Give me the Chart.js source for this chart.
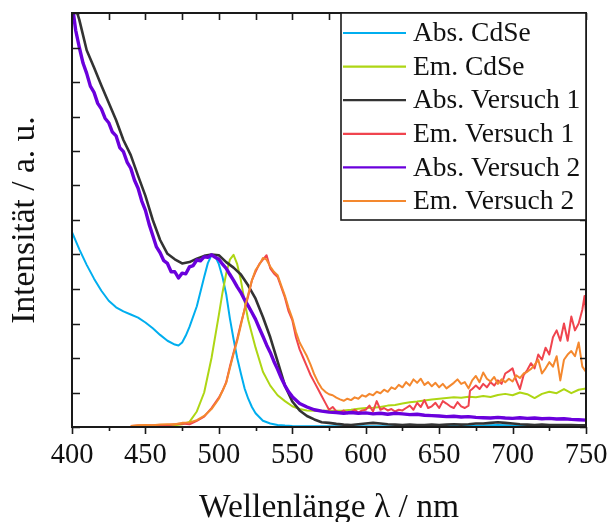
<!DOCTYPE html>
<html><head><meta charset="utf-8">
<script src="https://cdn.jsdelivr.net/npm/chart.js@4/dist/chart.umd.min.js"></script>
<style>html,body{margin:0;padding:0;background:#fff;}canvas{display:block;}</style>
</head><body>
<canvas id="c" width="607" height="522"></canvas>
<script>
// ---------- data ----------
const seriesLabels = ['Abs. CdSe', 'Em. CdSe', 'Abs. Versuch 1', 'Em. Versuch 1', 'Abs. Versuch 2', 'Em. Versuch 2'];

const wlAbsCdSe = [400,405,410,415,420,425,430,435,440,445,450,455,460,465,470,472.5,475,477.5,480,485,490,492.5,495,497.5,500,502.5,505,507.5,510,512.5,515,517.5,520,522.5,525,530,535,540,545,550,560,570,580,590,600,620,640,660,680,690,700,720,740,750];
const absCdSe   = [5.65,5.15,4.7,4.3,3.95,3.66,3.47,3.35,3.26,3.17,3.03,2.86,2.67,2.5,2.39,2.36,2.45,2.65,2.9,3.5,4.35,4.75,4.98,4.95,4.72,4.35,3.85,3.15,2.55,2.0,1.55,1.12,0.82,0.58,0.4,0.18,0.1,0.06,0.04,0.03,0.02,0.02,0.02,0.02,0.02,0.02,0.02,0.03,0.04,0.06,0.04,0.02,0.02,0.02];

const wlEmCdSe = [455,460,465,470,475,480,485,490,495,500,502.5,505,507.5,510,512.5,515,517.5,520,525,530,535,540,545,550,555,560,565,570,575,580,585,590,595,600,605,610,615,620,625,630,635,640,645,650,655,660,665,670,675,680,685,690,695,700,705,710,715,720,725,730,735,740,745,750];
const emCdSe   = [0.02,0.03,0.03,0.05,0.08,0.15,0.45,1.0,2.0,3.25,3.9,4.45,4.85,4.99,4.72,4.25,3.65,3.1,2.3,1.6,1.2,0.92,0.75,0.6,0.52,0.48,0.47,0.47,0.47,0.47,0.48,0.5,0.53,0.55,0.56,0.58,0.62,0.64,0.68,0.72,0.74,0.77,0.8,0.82,0.84,0.86,0.85,0.88,0.86,0.9,0.87,0.93,0.96,0.92,1.0,0.95,0.84,0.96,1.02,0.98,1.1,0.98,1.08,1.12];

const wlAbsV1 = [400,405,410,415,420,425,430,435,440,445,450,455,460,465,470,475,480,485,490,495,500,505,510,515,520,525,530,535,540,545,550,555,560,565,570,575,580,585,590,595,600,605,610,615,620,625,630,635,640,645,650,655,660,665,670,675,680,685,690,695,700,705,710,715,720,725,730,735,740,745,750];
const absV1   = [12.5,11.8,10.92,10.42,9.9,9.4,8.9,8.32,7.88,7.28,6.7,6.0,5.42,5.02,4.86,4.74,4.78,4.88,4.96,5.0,4.98,4.78,4.62,4.42,4.1,3.72,3.19,2.6,1.9,1.2,0.74,0.48,0.32,0.22,0.14,0.12,0.09,0.07,0.06,0.08,0.1,0.12,0.1,0.08,0.07,0.06,0.07,0.06,0.06,0.07,0.06,0.07,0.08,0.07,0.08,0.1,0.1,0.12,0.14,0.12,0.1,0.08,0.07,0.06,0.07,0.06,0.06,0.06,0.06,0.05,0.05];

const wlEmV1 = [440,445,450,455,460,465,470,475,480,485,490,495,500,502.5,505,507.5,510,512.5,515,517.5,520,522.5,525,527.5,530,532.5,535,537.5,540,542.5,545,547.5,550,552.5,555,557.5,560,562.5,565,567.5,570,572.5,575,577.5,580,582.5,585,587.5,590,592.5,595,597.5,600,602.5,605,607.5,610,612.5,615,617.5,620,622.5,625,627.5,630,632.5,635,637.5,640,642.5,645,647.5,650,652.5,655,657.5,660,662.5,665,667.5,670,671,672.5,675,677.5,680,682.5,685,687.5,690,692.5,695,697.5,700,702.5,705,707.5,710,712.5,715,717.5,720,722.5,725,727.5,730,732.5,735,737.5,740,742.5,745,747.5,749,750];
const emV1   = [0.03,0.04,0.04,0.05,0.06,0.05,0.08,0.1,0.08,0.18,0.3,0.55,0.85,1.05,1.3,1.75,2.15,2.55,3.0,3.4,3.8,4.25,4.5,4.72,4.85,4.98,4.6,4.45,4.35,4.05,3.75,3.35,3.1,2.6,2.25,2.0,1.75,1.5,1.3,1.1,0.9,0.7,0.5,0.58,0.45,0.42,0.48,0.4,0.43,0.5,0.42,0.48,0.5,0.62,0.45,0.75,0.5,0.55,0.48,0.52,0.45,0.5,0.48,0.55,0.62,0.5,0.7,0.58,0.78,0.55,0.6,0.7,0.55,0.75,0.68,0.6,0.55,0.72,0.6,0.55,0.62,1.05,1.1,1.2,1.1,1.25,1.15,1.3,1.2,1.35,1.25,1.55,1.62,1.7,1.35,1.1,1.5,1.65,1.85,1.7,2.1,1.95,2.3,2.1,2.6,2.8,2.5,3.0,2.5,3.2,2.8,3.0,3.4,3.8,3.3];

const wlAbsV2 = [400,402.5,405,407.5,410,412.5,415,417.5,420,422.5,425,427.5,430,432.5,435,437.5,440,442.5,445,447.5,450,452.5,455,457.5,460,462.5,465,467.5,470,472.5,475,477.5,480,482.5,485,487.5,490,492.5,495,497.5,500,502.5,505,507.5,510,512.5,515,517.5,520,522.5,525,527.5,530,532.5,535,537.5,540,542.5,545,547.5,550,555,560,565,570,575,580,585,590,595,600,605,610,615,620,625,630,635,640,645,650,655,660,665,670,675,680,685,690,695,700,705,710,715,720,725,730,735,740,745,750];
const absV2   = [12.3,11.5,11.0,10.55,10.25,9.88,9.7,9.38,9.22,8.95,8.82,8.55,8.44,8.1,7.98,7.68,7.5,7.16,6.92,6.55,6.28,5.88,5.55,5.22,5.05,4.82,4.74,4.5,4.5,4.32,4.46,4.44,4.64,4.68,4.84,4.82,4.93,4.92,4.99,4.92,4.86,4.72,4.6,4.42,4.25,4.06,3.9,3.69,3.51,3.32,3.12,2.87,2.63,2.38,2.16,1.9,1.67,1.42,1.2,1.02,0.88,0.68,0.58,0.5,0.46,0.43,0.42,0.4,0.42,0.4,0.41,0.38,0.4,0.37,0.4,0.38,0.36,0.37,0.34,0.33,0.32,0.3,0.31,0.29,0.3,0.28,0.27,0.26,0.28,0.26,0.25,0.27,0.25,0.26,0.24,0.25,0.23,0.24,0.22,0.21,0.2];

const wlEmV2 = [440,445,450,455,460,465,470,475,480,485,490,495,500,502.5,505,507.5,510,512.5,515,517.5,520,522.5,525,527.5,530,532.5,535,537.5,540,542.5,545,547.5,550,552.5,555,557.5,560,562.5,565,567.5,570,572.5,575,577.5,580,582.5,585,587.5,590,592.5,595,597.5,600,602.5,605,607.5,610,612.5,615,617.5,620,622.5,625,627.5,630,632.5,635,637.5,640,642.5,645,647.5,650,652.5,655,657.5,660,662.5,665,667.5,670,672.5,675,677.5,680,682.5,685,687.5,690,692.5,695,697.5,700,702.5,705,707.5,710,712.5,715,717.5,720,722.5,725,727.5,730,732.5,735,737.5,740,742.5,745,747.5,750];
const emV2   = [0.03,0.05,0.06,0.05,0.07,0.08,0.08,0.12,0.13,0.2,0.32,0.52,0.82,1.05,1.28,1.7,2.12,2.5,2.95,3.42,3.85,4.25,4.55,4.7,4.9,4.85,4.65,4.5,4.4,4.1,3.8,3.45,3.15,2.75,2.45,2.25,2.05,1.8,1.52,1.3,1.12,1.02,0.95,0.92,0.85,0.8,0.76,0.82,0.78,0.86,0.82,0.92,0.88,0.96,0.92,1.02,0.98,1.08,1.02,1.15,1.1,1.22,1.15,1.3,1.2,1.38,1.28,1.4,1.22,1.3,1.18,1.28,1.15,1.25,1.12,1.2,1.28,1.38,1.25,1.3,1.12,1.35,1.48,1.3,1.58,1.4,1.32,1.45,1.25,1.38,1.3,1.4,1.32,1.5,1.42,1.55,1.6,1.68,1.8,1.95,1.55,1.7,1.88,1.75,2.05,1.35,1.95,2.1,2.2,2.05,2.45,1.75,1.6];

const xTickValues = [400,450,500,550,600,650,700,750];
const xMinorValues = [425,475,525,575,625,675,725];
const yTickValues = [0,1,2,3,4,5,6,7,8,9,10,11,12];

const seriesColors = ['#00AEEF','#AED614','#333333','#F0444E','#6A00DC','#F4882E'];
const seriesWidths = [2,2,2.6,2,3.4,2];
const seriesOrder  = [5,4,3,2,1,0];

const allX = [wlAbsCdSe, wlEmCdSe, wlAbsV1, wlEmV1, wlAbsV2, wlEmV2];
const allY = [absCdSe, emCdSe, absV1, emV1, absV2, emV2];

const FONT = "'Liberation Serif', 'Times New Roman', serif";

const framePlugin = {
  id: 'frame',
  afterDatasetsDraw(chart) {
    const {ctx, chartArea: a, scales: {x, y}} = chart;
    ctx.save();
    ctx.strokeStyle = '#1a1a1a';
    ctx.lineWidth = 2;
    ctx.strokeRect(a.left, a.top, a.right - a.left, a.bottom - a.top);
    ctx.lineWidth = 1.6;
    ctx.beginPath();
    xTickValues.forEach(v => {
      const px = Math.round(x.getPixelForValue(v)) + 0.5;
      ctx.moveTo(px, a.bottom); ctx.lineTo(px, a.bottom + 7);
      ctx.moveTo(px, a.top); ctx.lineTo(px, a.top + 7);
    });
    xMinorValues.forEach(v => {
      const px = Math.round(x.getPixelForValue(v)) + 0.5;
      ctx.moveTo(px, a.bottom); ctx.lineTo(px, a.bottom + 4);
      ctx.moveTo(px, a.top); ctx.lineTo(px, a.top + 7);
    });
    yTickValues.forEach(v => {
      const py = Math.round(y.getPixelForValue(v)) + 0.5;
      ctx.moveTo(a.left, py); ctx.lineTo(a.left + 8, py);
      ctx.moveTo(a.right, py); ctx.lineTo(a.right - 6, py);
    });
    ctx.stroke();

    // legend box
    const lx = 341, ly = a.top, lr = a.right, lb = 220;
    ctx.fillStyle = '#fff';
    ctx.fillRect(lx, ly, lr - lx, lb - ly);
    ctx.lineWidth = 1.6;
    ctx.strokeStyle = '#1a1a1a';
    ctx.strokeRect(lx, ly, lr - lx, lb - ly);
    ctx.font = '27.5px ' + FONT;
    ctx.textBaseline = 'middle';
    ctx.textAlign = 'left';
    chart.data.datasets.forEach((ds, i) => {
      const ry = 33 + i * 33.6;
      ctx.strokeStyle = ds.borderColor;
      ctx.lineWidth = 2.2;
      ctx.beginPath();
      ctx.moveTo(343, ry); ctx.lineTo(406, ry);
      ctx.stroke();
      ctx.fillStyle = '#111';
      ctx.fillText(ds.label, 413, ry + 1);
    });
    ctx.restore();
  }
};

new Chart(document.getElementById('c'), {
  type: 'line',
  data: {
    datasets: seriesLabels.map((lab, i) => ({
      label: lab,
      data: allX[i].map((xv, k) => ({x: xv, y: allY[i][k]})),
      borderColor: seriesColors[i],
      borderWidth: seriesWidths[i],
      pointRadius: 0,
      tension: 0,
      fill: false,
      clip: 0,
      order: seriesOrder[i],
      borderJoinStyle: 'round'
    }))
  },
  options: {
    responsive: false,
    animation: false,
    devicePixelRatio: 1,
    events: [],
    layout: {padding: {left: 0, right: 21, top: 13, bottom: 0}},
    plugins: {legend: {display: false}, tooltip: {enabled: false}},
    scales: {
      x: {
        type: 'linear', min: 400, max: 750,
        afterBuildTicks: s => { s.ticks = xTickValues.map(v => ({value: v})); },
        afterFit: s => { s.paddingLeft = 0; s.paddingRight = 0; },
        ticks: {font: {family: FONT, size: 28.5, lineHeight: 1.2}, color: '#111', padding: 11, maxRotation: 0, autoSkip: false},
        grid: {display: false, drawTicks: false},
        border: {display: false},
        title: {display: true, text: 'Wellenlänge λ / nm', color: '#111', font: {family: FONT, size: 33.5, lineHeight: 0.8}, padding: {top: 12, bottom: 0}}
      },
      y: {
        type: 'linear', min: 0, max: 12,
        ticks: {display: false},
        grid: {display: false, drawTicks: false},
        border: {display: false},
        title: {display: true, text: 'Intensität / a. u.', color: '#111', font: {family: FONT, size: 33.5, lineHeight: 1.2}, padding: {top: 5.4, bottom: 26.4}}
      }
    }
  },
  plugins: [framePlugin]
});
</script>
</body></html>
